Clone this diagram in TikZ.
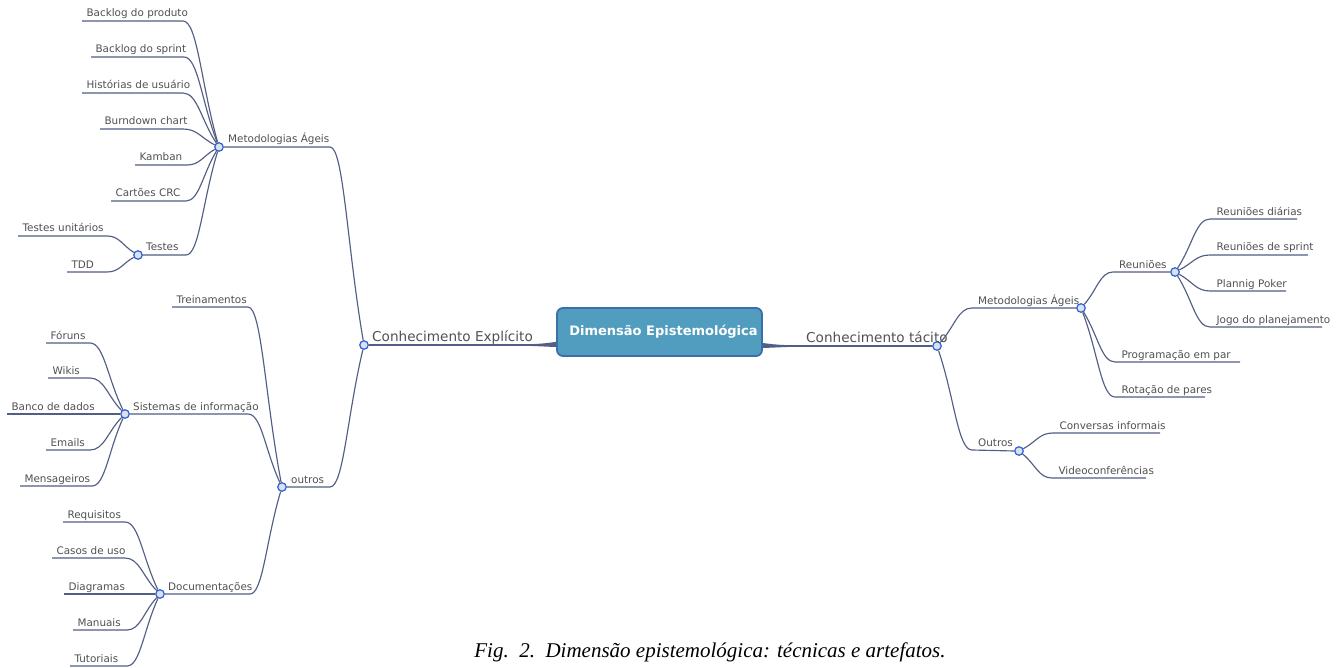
\documentclass[tikz,border=0pt]{standalone}
\usepackage{fontspec}
\setmainfont{Liberation Serif}
\newfontfamily\mapfont{DejaVu Sans}
\usetikzlibrary{calc}
\definecolor{linecol}{RGB}{82,94,132}
\definecolor{labelcol}{RGB}{80,80,84}
\definecolor{knotblue}{RGB}{45,95,215}
\definecolor{knotfill}{RGB}{218,224,236}
\definecolor{boxfill}{RGB}{81,157,192}
\definecolor{boxline}{RGB}{60,110,168}
\tikzset{>=latex}

\begin{document}
\begin{tikzpicture}[x=1pt,y=-1pt,
  branch/.style={draw=linecol, line width=1.15pt},
  leaf/.style={anchor=base west, inner sep=0pt, xshift=4pt, yshift=4pt, text=labelcol, font=\mapfont\fontsize{10.4}{12}\selectfont},
  rleaf/.style={leaf, xshift=2pt},
  major/.style={leaf, font=\mapfont\fontsize{13.6}{16}\selectfont},
  knot/.style={circle, draw=knotblue, fill=knotfill, line width=1.2pt, minimum size=8.5pt, inner sep=0pt},
  hub/.style={draw=boxline, fill=boxfill, line width=1.8pt, rounded corners=6pt, minimum width=205pt, minimum height=48pt, inner sep=0pt, text=white, font=\mapfont\bfseries\fontsize{13}{16}\selectfont},
  link/.style={to path={.. controls ($(\tikztostart)!0.4!(\tikztostart -| \tikztotarget)$) and ($(\tikztostart)!0.5!(\tikztotarget)$) .. (\tikztotarget) \tikztonodes}}]
\useasboundingbox (0,0) rectangle (1337,668);

% centre and knots
\node[hub] (dim) at (659.5,332) {\hspace*{8pt}Dimensão Epistemológica};
\node[knot] (ce) at (364,345) {};
\node[knot] (ct) at (937,346) {};
\node[knot] (ma) at (219,147) {};
\node[knot] (te) at (138,255) {};
\node[knot] (ou) at (282,487) {};
\node[knot] (si) at (125,414) {};
\node[knot] (dc) at (160,594) {};
\node[knot] (mt) at (1081,308) {};
\node[knot] (re) at (1175,272) {};
\node[knot] (ot) at (1019,451) {};

% main branches
\coordinate (lj) at (dim.west |- ce);
\coordinate (rj) at (dim.east |- ct);
\draw[branch] (ce) -- (lj);
\draw[branch] (ct) -- (rj);
\fill[linecol] ($(lj)+(0,-3.2)$) .. controls ($(lj)+(-12,-1.2)$) and ($(lj)+(-24,-0.6)$) .. ($(lj)+(-40,-0.55)$) -- ($(lj)+(-40,0.55)$) .. controls ($(lj)+(-24,0.8)$) and ($(lj)+(-12,1.6)$) .. ($(lj)+(0,2)$) -- cycle;
\fill[linecol] ($(rj)+(0,-3)$) .. controls ($(rj)+(12,-1.2)$) and ($(rj)+(24,-0.6)$) .. ($(rj)+(40,-0.55)$) -- ($(rj)+(40,0.55)$) .. controls ($(rj)+(24,0.8)$) and ($(rj)+(12,1.6)$) .. ($(rj)+(0,2)$) -- cycle;
\node[major, xshift=4pt] (ce-t) at (ce) {Conhecimento Explícito};
\node[major] (ct-t) at (802,346) {Conhecimento tácito};

% explicit: metodologias
\coordinate (ma-e) at (330,147);
\draw[branch] (ma.east) -- (ma-e) to[link] (ce);
\node[leaf, xshift=5pt] (ma-t) at (ma) {Metodologias Ágeis};
\coordinate (bp) at (183,21);
\draw[branch] (82,21) node[leaf] (bp-t) {Backlog do produto} -- (bp) to[link] (ma);
\coordinate (bs) at (184,57);
\draw[branch] (91,57) node[leaf] (bs-t) {Backlog do sprint} -- (bs) to[link] (ma);
\coordinate (hu) at (183,93);
\draw[branch] (82,93) node[leaf] (hu-t) {Histórias de usuário} -- (hu) to[link] (ma);
\coordinate (bc) at (183,129);
\draw[branch] (100,129) node[leaf] (bc-t) {Burndown chart} -- (bc) to[link] (ma);
\coordinate (kb) at (187,165);
\draw[branch] (135,165) node[leaf] (kb-t) {Kamban} -- (kb) to[link] (ma);
\coordinate (cc) at (186,201);
\draw[branch] (111,201) node[leaf] (cc-t) {Cartões CRC} -- (cc) to[link] (ma);
\coordinate (te-e) at (186,255);
\draw[branch] (te.east) -- (te-e) to[link] (ma);
\node[leaf, xshift=4pt] (te-t) at (te) {Testes};
\coordinate (tu) at (107,236);
\draw[branch] (18,236) node[leaf] (tu-t) {Testes unitários} -- (tu) to[link] (te);
\coordinate (td) at (107,272);
\draw[branch] (67,272) node[leaf] (td-t) {TDD} -- (td) to[link] (te);

% explicit: outros
\coordinate (ou-e) at (330,487);
\draw[branch] (ou.east) -- (ou-e) to[link] (ce);
\node[leaf, xshift=5pt] (ou-t) at (ou) {outros};
\coordinate (tr) at (248,307);
\draw[branch] (172,307) node[leaf] (tr-t) {Treinamentos} -- (tr) to[link] (ou);
\coordinate (si-e) at (248,414);
\draw[branch] (si.east) -- (si-e) to[link] (ou);
\node[leaf, xshift=4pt] (si-t) at (si) {Sistemas de informação};
\coordinate (fo) at (90,343);
\draw[branch] (46,343) node[leaf] (fo-t) {Fóruns} -- (fo) to[link] (si);
\coordinate (wk) at (90,378);
\draw[branch] (48,378) node[leaf] (wk-t) {Wikis} -- (wk) to[link] (si);
\coordinate (bd) at (90,414);
\draw[branch] (7,414) node[leaf] (bd-t) {Banco de dados} -- (bd) to[link] (si);
\coordinate (em) at (90,450);
\draw[branch] (46,450) node[leaf] (em-t) {Emails} -- (em) to[link] (si);
\coordinate (ms) at (92,486);
\draw[branch] (20,486) node[leaf] (ms-t) {Mensageiros} -- (ms) to[link] (si);
\coordinate (dc-e) at (250,594);
\draw[branch] (dc.east) -- (dc-e) to[link] (ou);
\node[leaf, xshift=4pt] (dc-t) at (dc) {Documentações};
\coordinate (rq) at (125,522);
\draw[branch] (63,522) node[leaf] (rq-t) {Requisitos} -- (rq) to[link] (dc);
\coordinate (cu) at (125,558);
\draw[branch] (52,558) node[leaf] (cu-t) {Casos de uso} -- (cu) to[link] (dc);
\coordinate (dg) at (125,594);
\draw[branch] (64,594) node[leaf] (dg-t) {Diagramas} -- (dg) to[link] (dc);
\coordinate (mn) at (127,630);
\draw[branch] (73,630) node[leaf] (mn-t) {Manuais} -- (mn) to[link] (dc);
\coordinate (tt) at (127,666);
\draw[branch] (70,666) node[leaf] (tt-t) {Tutoriais} -- (tt) to[link] (dc);

% tacit
\coordinate (mt-s) at (972,308);
\draw[branch] (mt.west) -- (mt-s) to[link] (ct);
\node[rleaf] (mt-t) at (mt-s) {Metodologias Ágeis};
\coordinate (re-s) at (1113,272);
\draw[branch] (re.west) -- (re-s) to[link] (mt);
\node[rleaf] (re-t) at (re-s) {Reuniões};
\coordinate (rd) at (1210,219);
\draw[branch] (1297,219) -- (rd) node[rleaf] (rd-t) {Reuniões diárias} (rd) to[link] (re);
\coordinate (rs) at (1210,255);
\draw[branch] (1308,255) -- (rs) node[rleaf] (rs-t) {Reuniões de sprint} (rs) to[link] (re);
\coordinate (pp) at (1210,291);
\draw[branch] (1286,291) -- (pp) node[rleaf] (pp-t) {Plannig Poker} (pp) to[link] (re);
\coordinate (jp) at (1210,327);
\draw[branch] (1322,327) -- (jp) node[rleaf] (jp-t) {Jogo do planejamento} (jp) to[link] (re);
\coordinate (pe) at (1115,362);
\draw[branch] (1240,362) -- (pe) node[rleaf] (pe-t) {Programação em par} (pe) to[link] (mt);
\coordinate (rp) at (1115,397);
\draw[branch] (1205,397) -- (rp) node[rleaf] (rp-t) {Rotação de pares} (rp) to[link] (mt);
\coordinate (ot-s) at (972,450);
\draw[branch] (ot.west) -- (ot-s) to[link] (ct);
\node[rleaf] (ot-t) at (ot-s) {Outros};
\coordinate (ci) at (1053,433);
\draw[branch] (1160,433) -- (ci) node[rleaf] (ci-t) {Conversas informais} (ci) to[link] (ot);
\coordinate (vc) at (1052,478);
\draw[branch] (1146,478) -- (vc) node[rleaf] (vc-t) {Videoconferências} (vc) to[link] (ot);

% caption
\node[anchor=base, font=\itshape\fontsize{21}{25}\selectfont] (cap) at (710,657) {Fig.\ \ 2.\ \ Dimensão epistemológica: técnicas e artefatos.};
\end{tikzpicture}
\end{document}
